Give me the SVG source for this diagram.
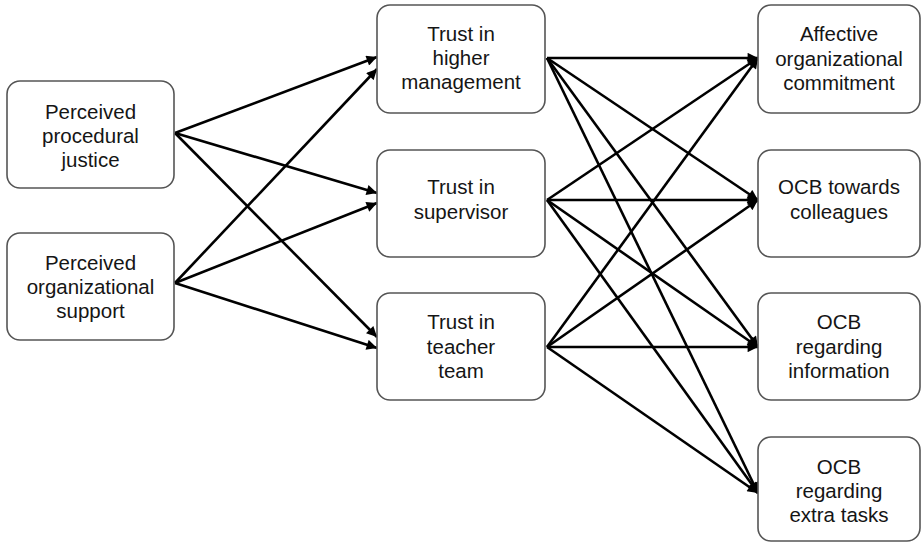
<svg xmlns="http://www.w3.org/2000/svg" width="922" height="544" viewBox="0 0 922 544">
<defs>
<marker id="ah" viewBox="0 0 10 10" refX="10" refY="5" markerWidth="4.6" markerHeight="4" markerUnits="strokeWidth" orient="auto">
<path d="M0,0 L10,5 L0,10 Z" fill="#000"/>
</marker>
<style>
.box{fill:#fff;stroke:#555;stroke-width:1.6}
.t{font-family:"Liberation Sans",Arial,sans-serif;font-size:20.5px;fill:#151515;text-anchor:middle}
.c line{stroke:#000;stroke-width:2.6;marker-end:url(#ah)}
</style>
</defs>
<rect width="922" height="544" fill="#fff"/>
<g class="c" id="connectors">
<line x1="175" y1="133" x2="377" y2="57"/>
<line x1="175" y1="133" x2="377" y2="193"/>
<line x1="175" y1="133" x2="377" y2="337"/>
<line x1="175" y1="283" x2="377" y2="69"/>
<line x1="175" y1="283" x2="377" y2="203"/>
<line x1="175" y1="283" x2="377" y2="348"/>
<line x1="547" y1="58" x2="758" y2="58"/>
<line x1="547" y1="58" x2="758" y2="200"/>
<line x1="547" y1="58" x2="758" y2="347"/>
<line x1="547" y1="58" x2="758" y2="493"/>
<line x1="547" y1="200" x2="758" y2="58"/>
<line x1="547" y1="200" x2="758" y2="200"/>
<line x1="547" y1="200" x2="758" y2="347"/>
<line x1="547" y1="200" x2="758" y2="493"/>
<line x1="547" y1="347" x2="758" y2="58"/>
<line x1="547" y1="347" x2="758" y2="200"/>
<line x1="547" y1="347" x2="758" y2="347"/>
<line x1="547" y1="347" x2="758" y2="493"/>
</g>
<g id="ppj">
<rect class="box" x="7" y="81" width="167" height="107" rx="13"/>
<text class="t" x="90.5" y="119">Perceived</text>
<text class="t" x="90.5" y="143">procedural</text>
<text class="t" x="90.5" y="167">justice</text>
</g>
<g id="pos">
<rect class="box" x="7" y="233" width="167" height="107" rx="13"/>
<text class="t" x="90.5" y="270">Perceived</text>
<text class="t" x="90.5" y="294">organizational</text>
<text class="t" x="90.5" y="318">support</text>
</g>
<g id="thm">
<rect class="box" x="377" y="5" width="168" height="108" rx="13"/>
<text class="t" x="461" y="41">Trust in</text>
<text class="t" x="461" y="65">higher</text>
<text class="t" x="461" y="89">management</text>
</g>
<g id="ts">
<rect class="box" x="377" y="150" width="168" height="107" rx="13"/>
<text class="t" x="461" y="194">Trust in</text>
<text class="t" x="461" y="219">supervisor</text>
</g>
<g id="ttt">
<rect class="box" x="377" y="293" width="168" height="107" rx="13"/>
<text class="t" x="461" y="329">Trust in</text>
<text class="t" x="461" y="354">teacher</text>
<text class="t" x="461" y="378">team</text>
</g>
<g id="aoc">
<rect class="box" x="758" y="5" width="162" height="108" rx="13"/>
<text class="t" x="839" y="41">Affective</text>
<text class="t" x="839" y="66">organizational</text>
<text class="t" x="839" y="90">commitment</text>
</g>
<g id="ocbc">
<rect class="box" x="758" y="150" width="162" height="107" rx="13"/>
<text class="t" x="839" y="194">OCB towards</text>
<text class="t" x="839" y="219">colleagues</text>
</g>
<g id="ocbi">
<rect class="box" x="758" y="293" width="162" height="107" rx="13"/>
<text class="t" x="839" y="329">OCB</text>
<text class="t" x="839" y="354">regarding</text>
<text class="t" x="839" y="378">information</text>
</g>
<g id="ocbe">
<rect class="box" x="758" y="437" width="162" height="104" rx="13"/>
<text class="t" x="839" y="474">OCB</text>
<text class="t" x="839" y="498">regarding</text>
<text class="t" x="839" y="522">extra tasks</text>
</g>
</svg>
